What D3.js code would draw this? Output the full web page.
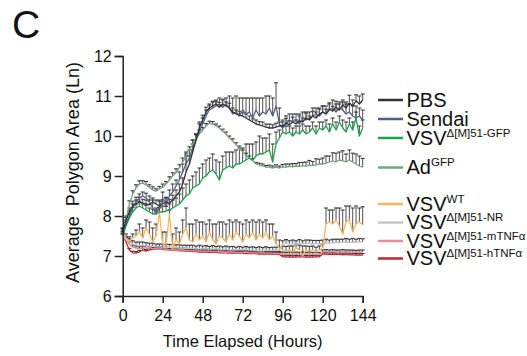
<!DOCTYPE html>
<html><head><meta charset="utf-8">
<script src="https://cdn.jsdelivr.net/npm/d3@7"></script>
<style>
html,body{margin:0;padding:0;background:#fff;}
svg{display:block;font-family:"Liberation Sans",Arial,sans-serif;}
</style></head>
<body>
<svg id="chart" width="527" height="356"></svg>
<script>
// hours 0,2,...,144
const hours = d3.range(0, 145, 2);
const xTicks = [0, 24, 48, 72, 96, 120, 144];
const yTicks = [6, 7, 8, 9, 10, 11, 12];

const pbs = [
 7.6, 7.9, 8.1, 8.25, 8.3, 8.35, 8.32, 8.3, 8.28, 8.35, 8.3, 8.25,
 8.3, 8.35, 8.32, 8.4, 8.5, 8.6, 8.8, 9.1, 9.3, 9.6, 9.9, 10.2,
 10.4, 10.6, 10.7, 10.75, 10.8, 10.72, 10.8, 10.75, 10.7, 10.6, 10.55, 10.52,
 10.5, 10.45, 10.4, 10.35, 10.3, 10.28, 10.25, 10.22, 10.2, 10.2, 10.22, 10.25,
 10.25, 10.32, 10.28, 10.35, 10.3, 10.38, 10.35, 10.45, 10.4, 10.5, 10.45, 10.55,
 10.6, 10.55, 10.68, 10.62, 10.72, 10.65, 10.78, 10.7, 10.82, 10.75, 10.88, 10.8,
 10.9];
const pbsErr = [
 0.08, 0.1, 0.1, 0.12, 0.1, 0.12, 0.1, 0.1, 0.12, 0.1, 0.1, 0.12,
 0.1, 0.12, 0.1, 0.12, 0.15, 0.2, 0.15, 0.4, 0.2, 0.2, 0.15, 0.15,
 0.12, 0.12, 0.1, 0.12, 0.1, 0.12, 0.1, 0.1, 0.12, 0.1, 0.1, 0.1,
 0.08, 0.1, 0.1, 0.08, 0.1, 0.08, 0.1, 0.08, 0.1, 0.08, 0.1, 0.1,
 0.1, 0.12, 0.1, 0.12, 0.1, 0.12, 0.1, 0.12, 0.1, 0.12, 0.15, 0.12,
 0.15, 0.12, 0.15, 0.12, 0.15, 0.15, 0.12, 0.15, 0.2, 0.15, 0.15, 0.2,
 0.15];

const sendai = [
 7.6, 7.8, 8.0, 8.2, 8.35, 8.45, 8.5, 8.45, 8.35, 8.2, 8.05, 8.2,
 8.45, 8.25, 8.5, 8.6, 8.75, 8.9, 9.1, 9.3, 9.45, 9.7, 9.9, 10.1,
 10.3, 10.5, 10.65, 10.7, 10.75, 10.8, 10.72, 10.8, 10.7, 10.55, 10.6, 10.5,
 10.65, 10.55, 10.6, 10.45, 10.65, 10.5, 10.6, 10.55, 10.7, 10.5, 10.75, 10.3,
 10.2, 10.3, 10.4, 10.35, 10.4, 10.3, 10.45, 10.4, 10.45, 10.5, 10.55, 10.5,
 10.6, 10.55, 10.65, 10.7, 10.6, 10.7, 10.65, 10.55, 10.6, 10.5, 10.45, 10.5,
 10.4];
const sendaiErr = [
 0.1, 0.1, 0.12, 0.1, 0.12, 0.1, 0.1, 0.12, 0.15, 0.2, 0.15, 0.2,
 0.15, 0.2, 0.15, 0.2, 0.15, 0.2, 0.2, 0.25, 0.2, 0.2, 0.15, 0.2,
 0.15, 0.15, 0.12, 0.15, 0.12, 0.15, 0.2, 0.15, 0.3, 0.4, 0.4, 0.45,
 0.3, 0.4, 0.35, 0.5, 0.3, 0.45, 0.35, 0.45, 0.3, 0.45, 0.58, 0.4,
 0.2, 0.2, 0.15, 0.2, 0.15, 0.25, 0.15, 0.2, 0.15, 0.2, 0.15, 0.2,
 0.15, 0.2, 0.15, 0.2, 0.2, 0.15, 0.2, 0.25, 0.2, 0.25, 0.3, 0.2,
 0.25];

const vsvGfp = [
 7.5, 7.75, 7.95, 8.1, 8.2, 8.25, 8.2, 8.15, 8.1, 8.05, 8.05, 8.1,
 8.1, 8.12, 8.15, 8.2, 8.25, 8.3, 8.4, 8.5, 8.55, 8.7, 8.75, 8.8,
 8.95, 9.0, 9.1, 9.15, 9.05, 8.9, 9.15, 9.2, 9.25, 9.2, 9.3, 9.3,
 9.35, 9.4, 9.45, 9.4, 9.5, 9.55, 9.55, 9.6, 9.65, 9.35, 9.8, 9.95,
 10.1, 10.05, 10.1, 10.0, 10.1, 10.05, 10.15, 10.05, 10.1, 10.2, 10.05, 10.2,
 10.15, 10.25, 10.1, 10.3, 10.15, 10.35, 10.2, 10.1, 10.3, 10.15, 10.45, 10.0,
 10.2];
const vsvGfpErr = [
 0.08, 0.1, 0.1, 0.12, 0.1, 0.12, 0.1, 0.12, 0.1, 0.12, 0.1, 0.12,
 0.15, 0.12, 0.15, 0.2, 0.2, 0.25, 0.3, 0.3, 0.35, 0.3, 0.35, 0.4,
 0.35, 0.4, 0.35, 0.4, 0.35, 0.45, 0.35, 0.4, 0.35, 0.4, 0.35, 0.4,
 0.35, 0.4, 0.35, 0.4, 0.35, 0.45, 0.4, 0.35, 0.4, 0.45, 0.3, 0.2,
 0.15, 0.2, 0.15, 0.2, 0.15, 0.2, 0.15, 0.2, 0.15, 0.15, 0.2, 0.15,
 0.2, 0.15, 0.2, 0.15, 0.2, 0.15, 0.2, 0.25, 0.15, 0.2, 0.15, 0.25,
 0.2];

const adGfp = [
 7.5, 7.9, 8.3, 8.55, 8.7, 8.8, 8.82, 8.78, 8.72, 8.65, 8.62, 8.68,
 8.72, 8.8, 8.9, 9.0, 9.08, 9.2, 9.35, 9.5, 9.65, 9.8, 9.95, 10.05,
 10.15, 10.25, 10.32, 10.3, 10.25, 10.2, 10.12, 10.05, 9.95, 9.88, 9.78, 9.7,
 9.6, 9.52, 9.45, 9.38, 9.3, 9.27, 9.25, 9.22, 9.22, 9.2, 9.22, 9.2,
 9.23, 9.22, 9.24, 9.23, 9.25, 9.24, 9.26, 9.25, 9.27, 9.26, 9.28, 9.3,
 9.3, 9.32, 9.35, 9.38, 9.35, 9.4, 9.38, 9.35, 9.4, 9.35, 9.3, 9.25,
 9.22];
const adGfpErr = [
 0.05, 0.06, 0.08, 0.08, 0.08, 0.08, 0.06, 0.08, 0.06, 0.08, 0.06, 0.06,
 0.08, 0.06, 0.08, 0.08, 0.1, 0.08, 0.1, 0.1, 0.08, 0.1, 0.08, 0.1,
 0.06, 0.06, 0.05, 0.06, 0.05, 0.05, 0.05, 0.05, 0.05, 0.05, 0.05, 0.05,
 0.05, 0.05, 0.05, 0.05, 0.04, 0.05, 0.05, 0.04, 0.05, 0.05, 0.06, 0.05,
 0.06, 0.08, 0.06, 0.08, 0.06, 0.1, 0.08, 0.1, 0.12, 0.1, 0.15, 0.12,
 0.15, 0.18, 0.15, 0.2, 0.22, 0.2, 0.25, 0.2, 0.25, 0.22, 0.25, 0.25,
 0.22];

const vsvWt = [
 7.5, 7.4, 7.38, 7.45, 7.5, 7.6, 7.45, 7.7, 7.55, 7.35, 7.5, 8.1,
 7.3, 7.25, 8.05, 7.2, 7.4, 7.3, 7.55, 7.7, 7.4, 7.35, 7.55, 7.4,
 7.5, 7.35, 7.6, 7.4, 7.3, 7.5, 7.45, 7.35, 7.55, 7.4, 7.6, 7.5,
 7.35, 7.55, 7.45, 7.6, 7.4, 7.55, 7.45, 7.6, 7.4, 7.5, 7.3, 7.2,
 7.15, 7.12, 7.15, 7.1, 7.2, 7.15, 7.0, 7.15, 7.12, 7.15, 7.1, 7.15,
 7.2, 7.8, 7.85, 7.8, 7.9, 7.75, 7.55, 7.85, 7.9, 7.6, 7.8, 7.85,
 7.78];
const vsvWtErr = [
 0.05, 0.08, 0.1, 0.1, 0.15, 0.2, 0.25, 0.2, 0.3, 0.35, 0.3, 0.1,
 0.3, 0.35, 0.1, 0.35, 0.3, 0.3, 0.35, 0.5, 0.4, 0.45, 0.35, 0.45,
 0.35, 0.45, 0.3, 0.4, 0.5, 0.35, 0.4, 0.45, 0.35, 0.45, 0.3, 0.35,
 0.45, 0.35, 0.4, 0.3, 0.45, 0.35, 0.4, 0.3, 0.4, 0.3, 0.3, 0.2,
 0.1, 0.12, 0.1, 0.15, 0.1, 0.12, 0.25, 0.1, 0.12, 0.1, 0.12, 0.1,
 0.1, 0.4, 0.3, 0.35, 0.3, 0.45, 0.6, 0.4, 0.35, 0.6, 0.45, 0.35,
 0.45];

const vsvNr = [
 7.6, 7.45, 7.35, 7.3, 7.28, 7.27, 7.28, 7.25, 7.25, 7.24, 7.23, 7.22,
 7.22, 7.21, 7.22, 7.2, 7.21, 7.2, 7.2, 7.19, 7.2, 7.19, 7.18, 7.19,
 7.18, 7.18, 7.17, 7.18, 7.17, 7.17, 7.16, 7.17, 7.16, 7.16, 7.15, 7.16,
 7.15, 7.16, 7.15, 7.15, 7.14, 7.15, 7.14, 7.15, 7.14, 7.14, 7.15, 7.14,
 7.3, 7.32, 7.3, 7.31, 7.3, 7.32, 7.3, 7.31, 7.32, 7.3, 7.31, 7.3,
 7.32, 7.33, 7.32, 7.33, 7.34, 7.33, 7.34, 7.35, 7.34, 7.35, 7.34, 7.35,
 7.35];
const vsvNrErr = [
 0.1, 0.1, 0.08, 0.08, 0.07, 0.08, 0.07, 0.08, 0.07, 0.08, 0.07, 0.08,
 0.07, 0.08, 0.07, 0.08, 0.07, 0.08, 0.07, 0.08, 0.07, 0.08, 0.07, 0.08,
 0.07, 0.08, 0.07, 0.08, 0.07, 0.08, 0.07, 0.08, 0.07, 0.08, 0.07, 0.08,
 0.07, 0.08, 0.07, 0.08, 0.07, 0.08, 0.07, 0.08, 0.07, 0.08, 0.07, 0.08,
 0.08, 0.09, 0.08, 0.09, 0.08, 0.09, 0.08, 0.09, 0.08, 0.09, 0.08, 0.09,
 0.08, 0.09, 0.08, 0.09, 0.08, 0.09, 0.08, 0.09, 0.08, 0.09, 0.08, 0.09,
 0.08];

const vsvMtnf = [
 7.55, 7.4, 7.3, 7.22, 7.2, 7.18, 7.2, 7.2, 7.2, 7.19, 7.18, 7.18,
 7.17, 7.17, 7.16, 7.16, 7.15, 7.15, 7.15, 7.14, 7.14, 7.13, 7.13, 7.13,
 7.12, 7.12, 7.12, 7.11, 7.11, 7.11, 7.1, 7.1, 7.1, 7.1, 7.09, 7.09,
 7.09, 7.09, 7.08, 7.08, 7.08, 7.08, 7.08, 7.07, 7.07, 7.07, 7.07, 7.06,
 7.05, 7.04, 7.05, 7.04, 7.05, 7.04, 7.05, 7.04, 7.05, 7.04, 7.05, 7.04,
 7.1, 7.11, 7.1, 7.11, 7.1, 7.1, 7.11, 7.1, 7.1, 7.1, 7.09, 7.1,
 7.1];
const vsvMtnfErr = [
 0.06, 0.06, 0.05, 0.05, 0.05, 0.05, 0.05, 0.05, 0.05, 0.05, 0.05, 0.05,
 0.05, 0.05, 0.05, 0.05, 0.05, 0.05, 0.05, 0.05, 0.05, 0.05, 0.05, 0.05,
 0.05, 0.05, 0.05, 0.05, 0.05, 0.05, 0.05, 0.05, 0.05, 0.05, 0.05, 0.05,
 0.05, 0.05, 0.05, 0.05, 0.05, 0.05, 0.05, 0.05, 0.05, 0.05, 0.05, 0.05,
 0.05, 0.05, 0.05, 0.05, 0.05, 0.05, 0.05, 0.05, 0.05, 0.05, 0.05, 0.05,
 0.05, 0.05, 0.05, 0.05, 0.05, 0.05, 0.05, 0.05, 0.05, 0.05, 0.05, 0.05,
 0.05];

const vsvHtnf = [
 7.6, 7.35, 7.15, 7.08, 7.07, 7.1, 7.15, 7.12, 7.15, 7.17, 7.18, 7.17,
 7.16, 7.16, 7.15, 7.15, 7.14, 7.13, 7.13, 7.12, 7.12, 7.11, 7.11, 7.1,
 7.1, 7.1, 7.09, 7.09, 7.09, 7.08, 7.08, 7.08, 7.07, 7.07, 7.07, 7.07,
 7.07, 7.06, 7.06, 7.06, 7.06, 7.05, 7.05, 7.05, 7.05, 7.05, 7.05, 7.04,
 6.98, 6.98, 6.97, 6.98, 6.97, 6.98, 6.98, 6.97, 6.98, 6.97, 6.98, 6.98,
 7.05, 7.05, 7.04, 7.05, 7.04, 7.04, 7.03, 7.04, 7.03, 7.03, 7.02, 7.03,
 7.02];
const vsvHtnfErr = [
 0.05, 0.05, 0.04, 0.04, 0.04, 0.04, 0.04, 0.04, 0.04, 0.04, 0.04, 0.04,
 0.04, 0.04, 0.04, 0.04, 0.04, 0.04, 0.04, 0.04, 0.04, 0.04, 0.04, 0.04,
 0.04, 0.04, 0.04, 0.04, 0.04, 0.04, 0.04, 0.04, 0.04, 0.04, 0.04, 0.04,
 0.04, 0.04, 0.04, 0.04, 0.04, 0.04, 0.04, 0.04, 0.04, 0.04, 0.04, 0.04,
 0.04, 0.04, 0.04, 0.04, 0.04, 0.04, 0.04, 0.04, 0.04, 0.04, 0.04, 0.04,
 0.04, 0.04, 0.04, 0.04, 0.04, 0.04, 0.04, 0.04, 0.04, 0.04, 0.04, 0.04,
 0.04];

const seriesNames = ["PBS", "Sendai", "VSV-GFP", "AdGFP", "VSV-WT", "VSV-NR", "VSV-mTNF", "VSV-hTNF"];
const seriesColors = ["#333333", "#4f6087", "#1ea14c", "#77a27f", "#f8b35e", "#c6c6c6", "#e88b9b", "#c8222c"];

const series = [
  {name: seriesNames[0], color: seriesColors[0], v: pbs, e: pbsErr, main: "PBS", sup: ""},
  {name: seriesNames[1], color: seriesColors[1], v: sendai, e: sendaiErr, main: "Sendai", sup: ""},
  {name: seriesNames[2], color: seriesColors[2], v: vsvGfp, e: vsvGfpErr, main: "VSV", sup: "Δ[M]51-GFP"},
  {name: seriesNames[3], color: seriesColors[3], v: adGfp, e: adGfpErr, main: "Ad", sup: "GFP"},
  {name: seriesNames[4], color: seriesColors[4], v: vsvWt, e: vsvWtErr, main: "VSV", sup: "WT"},
  {name: seriesNames[5], color: seriesColors[5], v: vsvNr, e: vsvNrErr, main: "VSV", sup: "Δ[M]51-NR"},
  {name: seriesNames[6], color: seriesColors[6], v: vsvMtnf, e: vsvMtnfErr, main: "VSV", sup: "Δ[M]51-mTNFα"},
  {name: seriesNames[7], color: seriesColors[7], v: vsvHtnf, e: vsvHtnfErr, main: "VSV", sup: "Δ[M]51-hTNFα"}
];

const svg = d3.select("#chart");
const x = d3.scaleLinear().domain([0, 144]).range([122.7, 362.7]);
const y = d3.scaleLinear().domain([6, 12]).range([296, 56]);

// panel letter
svg.append("text").attr("x", 12).attr("y", 38).attr("font-size", 39).attr("fill", "#111").text("C");

// error bars
const eb = svg.append("g");
series.forEach(s => {
  const g = eb.append("g");
  hours.forEach((h, i) => {
    if (s.e[i] == null) return;
    const cx = x(h), y0 = y(s.v[i]), y1 = y(s.v[i] + s.e[i]);
    g.append("line").attr("x1", cx).attr("x2", cx).attr("y1", y0).attr("y2", y1)
      .attr("stroke", "#505050").attr("stroke-width", 1);
    g.append("line").attr("x1", cx - 2).attr("x2", cx + 2).attr("y1", y1).attr("y2", y1)
      .attr("stroke", "#2a2a2a").attr("stroke-width", 1);
  });
});

// lines
const line = d3.line().x((d, i) => x(hours[i])).y(d => y(d));
const order = [7, 6, 5, 4, 3, 2, 1, 0];
order.forEach(k => {
  const s = series[k];
  svg.append("path").datum(s.v).attr("d", line)
    .attr("fill", "none").attr("stroke", s.color).attr("stroke-width", 1.3)
    .attr("stroke-linejoin", "round");
});

// axes
const yAxis = svg.append("g").attr("transform", `translate(${x(0)},0)`)
  .call(d3.axisLeft(y).tickValues(yTicks).tickSize(8).tickPadding(3).tickFormat(d3.format("d")));
const xAxis = svg.append("g").attr("transform", `translate(0,${y(6)})`)
  .call(d3.axisBottom(x).tickValues(xTicks).tickSize(7).tickPadding(7).tickFormat(d3.format("d")));
[yAxis, xAxis].forEach(a => {
  a.select(".domain").attr("stroke", "#222").attr("stroke-width", 1.5);
  a.selectAll(".tick line").attr("stroke", "#222").attr("stroke-width", 1.5);
  a.selectAll(".tick text").attr("font-size", 16).attr("fill", "#111")
    .attr("font-family", "'Liberation Sans', Arial, sans-serif");
});
yAxis.selectAll(".tick text").attr("dy", "0.35em");

// axis titles
svg.append("text").attr("x", x(72)).attr("y", 346.5).attr("text-anchor", "middle")
  .attr("font-size", 16.5).attr("fill", "#111").text("Time Elapsed (Hours)");
svg.append("text").attr("transform", "translate(79,172.5) rotate(-90)").attr("text-anchor", "middle")
  .attr("font-size", 18).attr("fill", "#111").style("white-space", "pre")
  .text("Average  Polygon Area (Ln)");

// legend
const legY = [100, 119, 138, 167.5, 204, 222.5, 241, 258.5];
const lg = svg.append("g");
series.forEach((s, i) => {
  lg.append("line").attr("x1", 378).attr("x2", 403).attr("y1", legY[i]).attr("y2", legY[i])
    .attr("stroke", s.color).attr("stroke-width", 2.5);
  const t = lg.append("text").attr("x", 406.5).attr("y", legY[i] + 6.5)
    .attr("font-size", 20).attr("fill", "#111");
  t.append("tspan").text(s.main);
  if (s.sup) t.append("tspan").attr("font-size", 11.5).attr("dy", -8).text(s.sup);
});
</script>
</body></html>
